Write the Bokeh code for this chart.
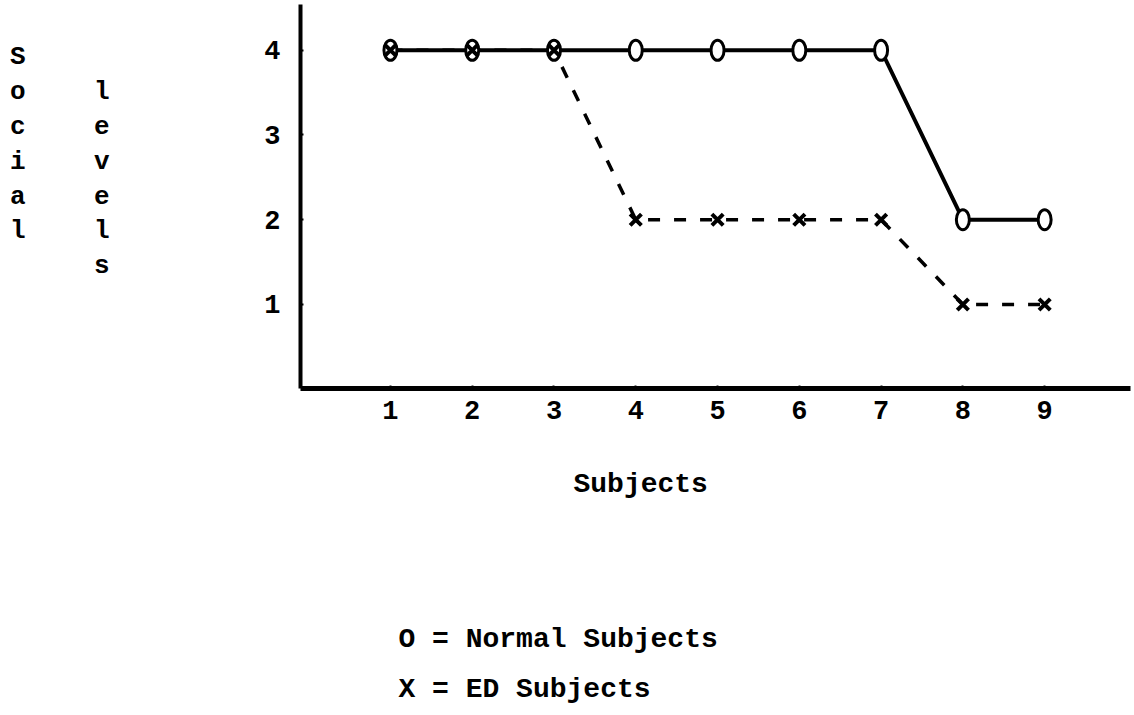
from bokeh.plotting import figure
from bokeh.models import Range1d, FixedTicker, LinearAxis, Title
from bokeh.embed import file_html
from bokeh.resources import INLINE

subjects = [1, 2, 3, 4, 5, 6, 7, 8, 9]
normal = [4, 4, 4, 4, 4, 4, 4, 2, 2]
ed = [4, 4, 4, 2, 2, 2, 2, 1, 1]
y_ticks = [1, 2, 3, 4]
y_title_1 = "Social"
y_title_2 = "levels"
x_title = "Subjects"
legend_lines = ["O = Normal Subjects", "X = ED Subjects"]

W, H = 1134, 715
FL, FT, FB, FR = 300, 4, 388, 1130
FONT = "Liberation Mono"

p = figure(width=W, height=H, output_backend="svg", toolbar_location=None,
           x_range=Range1d(-0.10, 10.05), y_range=Range1d(0.008, 4.54),
           min_border_left=FL, min_border_right=W - FR, min_border_top=FT,
           min_border_bottom=H - FB)
p.outline_line_color = None
p.xgrid.visible = False
p.ygrid.visible = False
p.background_fill_color = "white"
p.border_fill_color = "white"

for ax in (p.xaxis[0], p.yaxis[0]):
    ax.axis_line_width = 4
    ax.axis_line_color = "black"
    ax.major_tick_in = 3
    ax.major_tick_out = 0
    ax.major_tick_line_width = 2
    ax.minor_tick_line_color = None
    ax.major_label_text_font = FONT
    ax.major_label_text_font_style = "bold"
    ax.major_label_text_font_size = "27px"
    ax.major_label_text_color = "black"
p.xaxis[0].ticker = FixedTicker(ticks=subjects)
p.yaxis[0].ticker = FixedTicker(ticks=y_ticks)
p.xaxis[0].major_label_standoff = 12
p.yaxis[0].major_label_standoff = 20
p.xaxis[0].axis_line_width = 5

# stacked-letter y titles as label-only axes
def letter_axis(word, standoff, trailing):
    ax = LinearAxis(ticker=FixedTicker(ticks=[]), axis_line_color=None,
                    major_tick_line_color=None, minor_tick_line_color=None,
                    major_label_text_font_size="0px",
                    axis_label="\n".join(list(word) + [" "] * trailing),
                    axis_label_orientation="horizontal",
                    axis_label_standoff=standoff,
                    axis_label_text_font=FONT, axis_label_text_font_style="bold",
                    axis_label_text_font_size="26px", axis_label_text_color="black",
                    axis_label_text_line_height=1.16)
    p.add_layout(ax, "left")

letter_axis(y_title_2, 152, 1)
letter_axis(y_title_1, 65, 3)

# texts below the x axis (each title is centred in its own band)
def below(text, offset, standoff):
    p.add_layout(Title(text=text, align="left", offset=offset, standoff=standoff,
                       text_font=FONT, text_font_style="bold", text_font_size="28px",
                       text_color="black"), "below")

below(x_title, 273, 90)
below(" ", 0, 36)
below(legend_lines[0], 98, 17)
below(legend_lines[1], 98, 17)

# lines
p.line(subjects, normal, line_color="black", line_width=4)
p.line(subjects, ed, line_color="black", line_width=3.5, line_dash="12 14")
# markers
p.ellipse(subjects, normal, width=13, height=20, width_units="screen", height_units="screen",
          fill_color="white", line_color="black", line_width=3)
p.scatter(subjects, ed, marker="x", size=16, line_color="black", line_width=4)

open("out.html", "w").write(file_html(p, INLINE))
